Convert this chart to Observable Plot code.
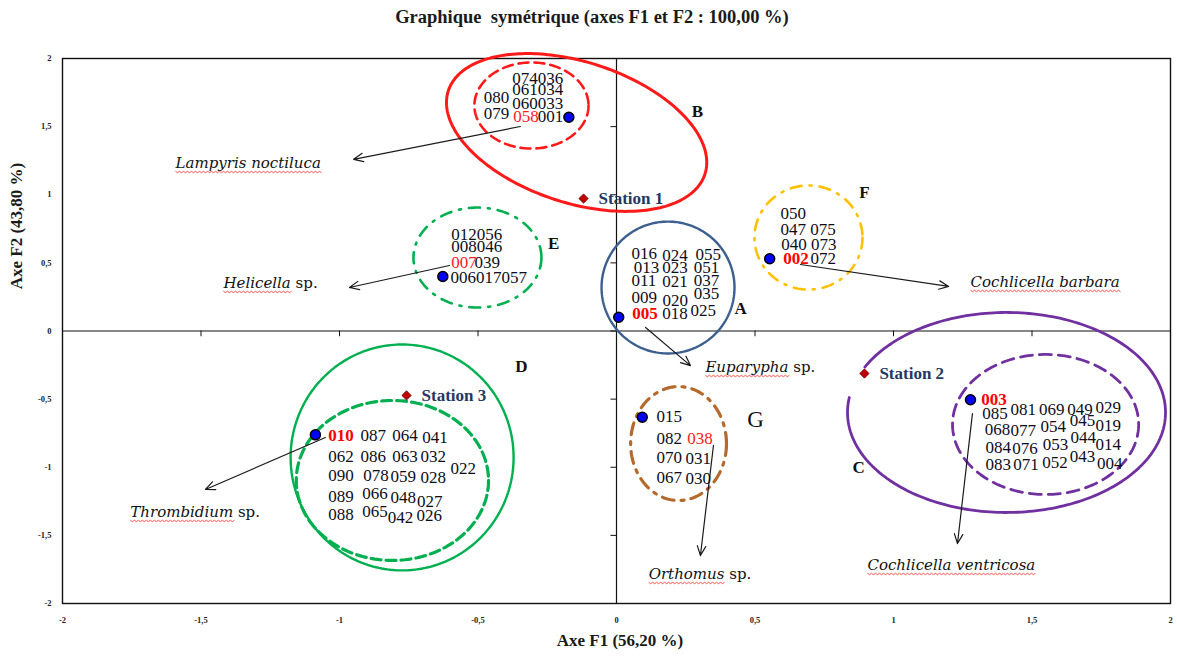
<!DOCTYPE html>
<html><head><meta charset="utf-8">
<script src="https://cdn.jsdelivr.net/npm/d3@7"></script>
<script src="https://cdn.jsdelivr.net/npm/@observablehq/plot@0.6"></script>
<style>
html,body{margin:0;padding:0;background:#fff;}
#wrap{position:relative;width:1177px;height:657px;overflow:hidden;}
#wrap svg{position:absolute;left:0;top:0;}
.ttl{position:absolute;font-family:"Liberation Serif",serif;font-weight:bold;color:#1a1a1a;white-space:pre;text-align:center;}
#title{top:6px;left:0;width:1184px;font-size:18.5px;line-height:22px;}
#ylab{left:-133px;top:216px;width:300px;font-size:17px;line-height:20px;transform:rotate(-90deg);}
#xlab{left:470px;top:631px;width:300px;font-size:17px;line-height:20px;}
</style></head>
<body><div id="wrap">
<div id="title" class="ttl">Graphique  symétrique (axes F1 et F2 : 100,00 %)</div>
<div id="ylab" class="ttl">Axe F2 (43,80 %)</div>
<div id="xlab" class="ttl">Axe F1 (56,20 %)</div>
</div>
<script>
// ---- data ----
const ticks = [-2, -1.5, -1, -0.5, 0, 0.5, 1, 1.5, 2];

const groupPoints = [
  {id: "001", x: -0.172, y: 1.569},
  {id: "006", x: -0.627, y: 0.400},
  {id: "005", x: 0.008, y: 0.101},
  {id: "002", x: 0.553, y: 0.530},
  {id: "010", x: -1.087, y: -0.762},
  {id: "015", x: 0.093, y: -0.633},
  {id: "003", x: 1.278, y: -0.505}
];

const stations = [
  {name: "Station 1", x: -0.119, y: 0.972},
  {name: "Station 2", x: 0.895, y: -0.312},
  {name: "Station 3", x: -0.758, y: -0.473}
];

const labelsB = [
  {t: "074036", x: -0.3765, y: 1.851}, {t: "080", x: -0.479, y: 1.712},
  {t: "061034", x: -0.3765, y: 1.770}, {t: "060033", x: -0.3765, y: 1.672},
  {t: "079", x: -0.479, y: 1.599}, {t: "058", x: -0.373, y: 1.574},
  {t: "001", x: -0.284, y: 1.574}
];
const labelsE = [
  {t: "012056", x: -0.597, y: 0.708}, {t: "008046", x: -0.597, y: 0.620},
  {t: "007", x: -0.597, y: 0.505}, {t: "039", x: -0.513, y: 0.505},
  {t: "006017057", x: -0.599, y: 0.390}
];
const labelsA = [
  {t: "016", x: 0.054, y: 0.567}, {t: "024", x: 0.165, y: 0.556}, {t: "055", x: 0.285, y: 0.561},
  {t: "013", x: 0.062, y: 0.468}, {t: "023", x: 0.165, y: 0.464}, {t: "051", x: 0.279, y: 0.468},
  {t: "011", x: 0.054, y: 0.371}, {t: "021", x: 0.165, y: 0.361}, {t: "037", x: 0.279, y: 0.371},
  {t: "009", x: 0.054, y: 0.248}, {t: "020", x: 0.166, y: 0.224}, {t: "035", x: 0.279, y: 0.273},
  {t: "005", x: 0.057, y: 0.126}, {t: "018", x: 0.165, y: 0.126}, {t: "025", x: 0.267, y: 0.150}
];
const labelsF = [
  {t: "050", x: 0.592, y: 0.865}, {t: "047 075", x: 0.592, y: 0.743},
  {t: "040 073", x: 0.595, y: 0.635}, {t: "002", x: 0.602, y: 0.530},
  {t: "072", x: 0.700, y: 0.530}
];
const labelsD = [
  {t: "010", x: -1.041, y: -0.767}, {t: "087", x: -0.924, y: -0.767}, {t: "064", x: -0.810, y: -0.767}, {t: "041", x: -0.701, y: -0.779},
  {t: "062", x: -1.041, y: -0.921}, {t: "086", x: -0.924, y: -0.921}, {t: "063", x: -0.810, y: -0.921}, {t: "032", x: -0.708, y: -0.921},
  {t: "022", x: -0.599, y: -1.007},
  {t: "090", x: -1.041, y: -1.061}, {t: "078", x: -0.914, y: -1.061}, {t: "059", x: -0.816, y: -1.068}, {t: "028", x: -0.708, y: -1.077},
  {t: "089", x: -1.041, y: -1.215}, {t: "066", x: -0.918, y: -1.190}, {t: "048", x: -0.816, y: -1.220}, {t: "027", x: -0.720, y: -1.251},
  {t: "088", x: -1.041, y: -1.347}, {t: "065", x: -0.918, y: -1.323}, {t: "042", x: -0.826, y: -1.371}, {t: "026", x: -0.722, y: -1.354}
];
const labelsG = [
  {t: "015", x: 0.144, y: -0.628}, {t: "082", x: 0.144, y: -0.791}, {t: "038", x: 0.255, y: -0.791},
  {t: "070", x: 0.144, y: -0.926}, {t: "031", x: 0.249, y: -0.938},
  {t: "067", x: 0.144, y: -1.073}, {t: "030", x: 0.249, y: -1.080}
];
const labelsC = [
  {t: "003", x: 1.317, y: -0.505},
  {t: "085", x: 1.320, y: -0.608}, {t: "081", x: 1.422, y: -0.578}, {t: "069", x: 1.525, y: -0.578}, {t: "049", x: 1.627, y: -0.578}, {t: "029", x: 1.729, y: -0.559},
  {t: "068", x: 1.329, y: -0.725}, {t: "077", x: 1.422, y: -0.730}, {t: "054", x: 1.531, y: -0.701}, {t: "045", x: 1.636, y: -0.657}, {t: "019", x: 1.729, y: -0.694},
  {t: "084", x: 1.332, y: -0.853}, {t: "076", x: 1.429, y: -0.865}, {t: "053", x: 1.539, y: -0.833}, {t: "044", x: 1.639, y: -0.784}, {t: "014", x: 1.729, y: -0.835},
  {t: "083", x: 1.332, y: -0.982}, {t: "071", x: 1.432, y: -0.982}, {t: "052", x: 1.537, y: -0.963}, {t: "043", x: 1.636, y: -0.921}, {t: "004", x: 1.735, y: -0.975}
];

// species highlighted in the figure (red ids); the four group centroids are also bold
const namedIds = ["058", "007", "005", "002", "010", "038", "003"];
const centroidIds = ["005", "002", "010", "003"];

const groups = [
  {g: "A", x: 0.448, y: 0.165}, {g: "B", x: 0.292, y: 1.612}, {g: "C", x: 0.874, y: -1.002},
  {g: "D", x: -0.343, y: -0.261}, {g: "E", x: -0.227, y: 0.642}, {g: "F", x: 0.895, y: 1.017}
];
const groupG = [{g: "G", x: 0.502, y: -0.650}];

const species = [
  {name: "Lampyris noctiluca", x: -1.592, y: 1.229, x1: -0.347, y1: 1.501, x2: -0.949, y2: 1.260},
  {name: "Helicella sp.", x: -1.419, y: 0.349, x1: -0.603, y1: 0.481, x2: -0.964, y2: 0.319},
  {name: "Cochlicella barbara", x: 1.278, y: 0.356, x1: 0.664, y1: 0.488, x2: 1.199, y2: 0.327},
  {name: "Euparypha sp.", x: 0.321, y: -0.268, x1: 0.105, y1: 0.026, x2: 0.267, y2: -0.254},
  {name: "Orthomus sp.", x: 0.116, y: -1.787, x1: 0.350, y1: -0.840, x2: 0.303, y2: -1.648},
  {name: "Thrombidium sp.", x: -1.755, y: -1.332, x1: -1.051, y1: -0.782, x2: -1.484, y2: -1.163},
  {name: "Cochlicella ventricosa", x: 0.906, y: -1.721, x1: 1.285, y1: -0.606, x2: 1.231, y2: -1.560}
];

// group envelopes (centre, semi-axes in axis units, tilt)
const envelopes = [
  {cx: -0.144, cy: 1.457, rx: 0.487, ry: 0.517, angle: 18, color: "#ff1a1a", w: 3},
  {cx: -0.307, cy: 1.655, rx: 0.206, ry: 0.316, color: "#ff1a1a", w: 2.6, dash: "10,6"},
  {cx: -0.502, cy: 0.539, rx: 0.231, ry: 0.367, color: "#00b050", w: 2.6, dash: "11,8,2,8"},
  {cx: 0.186, cy: 0.319, rx: 0.240, ry: 0.484, color: "#3d5f8f", w: 2.4},
  {cx: 0.693, cy: 0.686, rx: 0.195, ry: 0.382, color: "#ffc000", w: 2.6, dash: "11,8,2,8"},
  {cx: -0.774, cy: -0.928, rx: 0.4025, ry: 0.829, color: "#00b050", w: 2.4},
  {cx: -0.809, cy: -1.097, rx: 0.347, ry: 0.587, color: "#00b050", w: 3.2, dash: "10,5"},
  {cx: 1.408, cy: -0.598, rx: 0.574, ry: 0.734, color: "#7030a0", w: 2.8, from: 207, to: 548.6},
  {cx: 1.549, cy: -0.686, rx: 0.336, ry: 0.514, color: "#7030a0", w: 2.8, dash: "12,7"},
  {cx: 0.224, cy: -0.826, rx: 0.173, ry: 0.418, color: "#b36a2c", w: 3.2, dash: "12,7,3,7"}
];

// ---- layout ----
const W = 1177, H = 657, mL = 62, mR = 7, mT = 58, mB = 54;
const kx = (W - mL - mR) / 4, ky = (H - mT - mB) / 4;
function envelopePath(e) {
  const th = (e.angle || 0) * Math.PI / 180;
  const t0 = e.from ?? 0, t1 = e.to ?? 360, n = 240, pts = [];
  for (let i = 0; i <= n; i++) {
    const t = (t0 + (t1 - t0) * i / n) * Math.PI / 180;
    const u = e.rx * kx * Math.cos(t), v = e.ry * ky * Math.sin(t);
    const px = u * Math.cos(th) - v * Math.sin(th);
    const py = u * Math.sin(th) + v * Math.cos(th);
    pts.push({x: e.cx + px / kx, y: e.cy - py / ky});
  }
  return pts;
}
const fmt = d => String(d).replace(".", ",");
const allLabels = [...labelsB, ...labelsE, ...labelsA, ...labelsF, ...labelsD, ...labelsG, ...labelsC];
const plain = allLabels.filter(d => !namedIds.includes(d.t));
const redPlain = allLabels.filter(d => namedIds.includes(d.t) && !centroidIds.includes(d.t));
const redBold = allLabels.filter(d => centroidIds.includes(d.t));
const numFont = {fontFamily: "Liberation Serif, serif", fontSize: 17, textAnchor: "start", lineAnchor: "middle"};

const chart = Plot.plot({
  width: W, height: H,
  marginLeft: mL, marginRight: mR, marginTop: mT, marginBottom: mB,
  x: {domain: [-2, 2]},
  y: {domain: [-2, 2]},
  style: {background: "transparent", overflow: "visible"},
  marks: [
    Plot.frame({stroke: "#111", strokeWidth: 1.4}),
    Plot.ruleX([0], {stroke: "#111", strokeWidth: 1.2}),
    Plot.ruleY([0], {stroke: "#111", strokeWidth: 1.2}),
    Plot.ruleY(ticks, {y: d => d, x1: 0, x2: -0.02, stroke: "#111"}),
    Plot.ruleX(ticks, {x: d => d, y1: 0, y2: -0.042, stroke: "#111"}),
    Plot.axisX(ticks, {anchor: "bottom", tickSize: 0, tickPadding: 13, tickFormat: fmt, label: null,
      fontSize: 8.5, fontWeight: "bold", fontFamily: "Liberation Serif, serif", fill: "#222"}),
    Plot.axisY(ticks, {anchor: "left", tickSize: 0, tickPadding: 11, tickFormat: fmt, label: null,
      fontSize: 8.5, fontWeight: "bold", fontFamily: "Liberation Serif, serif", fill: "#222"}),
    ...envelopes.map(e => Plot.line(envelopePath(e), {x: "x", y: "y", stroke: e.color, strokeWidth: e.w,
      strokeDasharray: e.dash, strokeLinecap: "round", curve: "linear"})),
    Plot.arrow(species, {x1: "x1", y1: "y1", x2: "x2", y2: "y2", stroke: "#1a1a1a", strokeWidth: 1.2,
      headLength: 13, headAngle: 48}),
    Plot.text(plain, {...numFont, x: "x", y: "y", text: "t", fill: "#0d0d1a"}),
    Plot.text(redPlain, {...numFont, x: "x", y: "y", text: "t", fill: "#ff2020"}),
    Plot.text(redBold, {...numFont, x: "x", y: "y", text: "t", fill: "#ff0000", fontWeight: "bold"}),
    Plot.text(groups, {x: "x", y: "y", text: "g", fontFamily: "Liberation Serif, serif", fontSize: 17,
      fontWeight: "bold", fill: "#111"}),
    Plot.text(groupG, {x: "x", y: "y", text: "g", fontFamily: "Liberation Serif, serif", fontSize: 23, fill: "#111"}),
    Plot.text(species, {x: "x", y: "y", text: "name", textAnchor: "start", fontFamily: "DejaVu Serif, serif",
      fontSize: 15, fill: "#111"}),
    Plot.text(stations, {x: "x", y: "y", text: "name", textAnchor: "start", dx: 15, fontFamily: "Liberation Serif, serif",
      fontSize: 17, fontWeight: "bold", fill: "#1f3864"}),
    Plot.dot(stations, {x: "x", y: "y", symbol: "diamond2", r: 4.2, fill: "#c00000", stroke: "#700000", strokeWidth: 0.8}),
    Plot.dot(groupPoints, {x: "x", y: "y", r: 5, fill: "#0000ff", stroke: "#000", strokeWidth: 1.5})
  ]
});
document.getElementById("wrap").prepend(chart);

// rich text for species names: italic genus, upright "sp.", red spell-check squiggle
const names = new Set(species.map(d => d.name));
d3.select(chart).selectAll("text").each(function () {
  const s = this.textContent;
  if (!names.has(s)) return;
  const m = s.match(/^(.*?)( sp\.)?$/);
  const sel = d3.select(this);
  sel.text(null);
  sel.append("tspan").style("font-style", "italic").text(m[1]);
  if (m[2]) sel.append("tspan").text(m[2]);
  const n = m[1].length;
  const p0 = this.getStartPositionOfChar(0), p1 = this.getEndPositionOfChar(n - 1);
  const yb = p0.y + 3;
  let d = `M${p0.x},${yb}`;
  for (let x = p0.x, k = 0; x < p1.x; x += 2, k++) d += `L${x + 2},${yb + (k % 2 ? 0 : 1.4)}`;
  d3.select(this.parentNode).append("path")
    .attr("d", d)
    .attr("transform", this.getAttribute("transform"))
    .attr("fill", "none").attr("stroke", "#ff3b3b").attr("stroke-width", 0.9);
});
</script>
</body></html>
